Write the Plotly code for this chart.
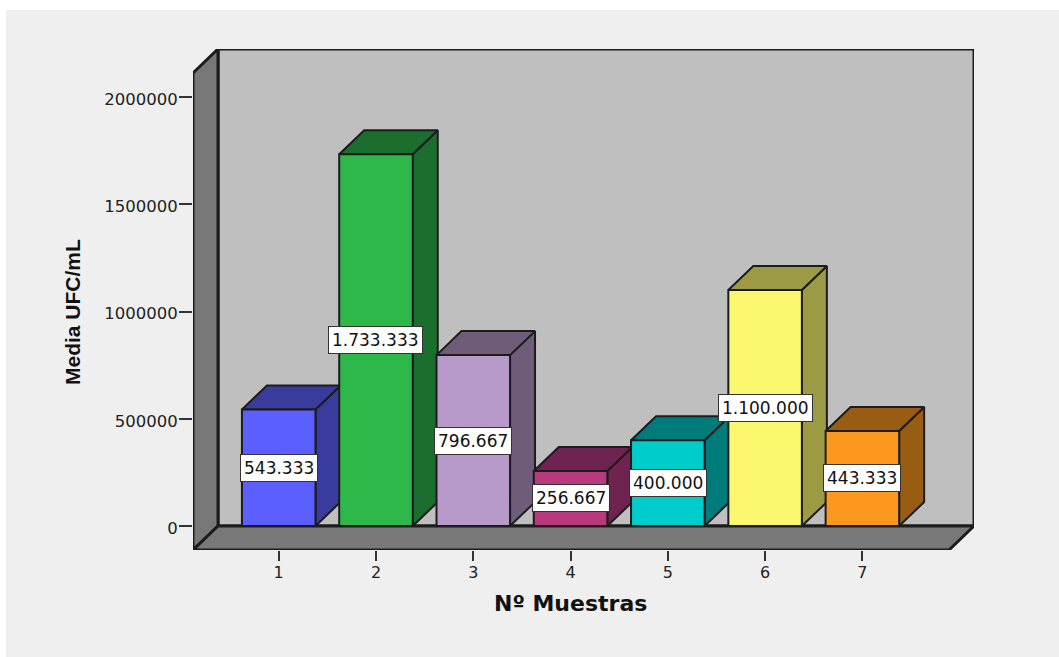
import plotly.graph_objects as go

# Mean CFU per sample, shown as extruded bars on a box-shaped stage
samples = [1, 2, 3, 4, 5, 6, 7]
mean_ufc = [543333, 1733333, 796667, 256667, 400000, 1100000, 443333]
front_colors = ["#5b5fff", "#2fb84a", "#b79ac9", "#b83a7c", "#00cccc", "#fbf870", "#fd981e"]
shade_colors = ["#393c9c", "#1b6e2e", "#6f5c79", "#6f2350", "#007b7b", "#9d9a45", "#985c12"]
y_ticks = [0, 500000, 1000000, 1500000, 2000000]

WIDTH, HEIGHT = 1059, 657
LEFT, TOP, RIGHT, BOTTOM = 193, 49, 974, 550

# Axis scale: one sample step and one 500000 step in screen units
STEP_X = 97.28
UNITS_PER_PX = 500000 / 107.25
X0_PX, Y0_PX = 278.7, 526

x_range = [1 - (X0_PX - LEFT) / STEP_X, 1 + (RIGHT - X0_PX) / STEP_X]
y_range = [-(BOTTOM - Y0_PX) * UNITS_PER_PX, (Y0_PX - TOP) * UNITS_PER_PX]

# Extrusion offset of the 3D effect, in axis units
DEPTH_X = 25 / STEP_X
DEPTH_Y = (BOTTOM - Y0_PX) * UNITS_PER_PX
BAR_WIDTH = 0.756

EDGE = "#1c1c1c"
AXIS_FONT = "DejaVu Sans"


def face(xs, ys, color, width=2, xaxis="x", yaxis="y"):
    return go.Scatter(
        x=xs + xs[:1], y=ys + ys[:1], mode="lines", fill="toself", fillcolor=color,
        line=dict(color=EDGE, width=width), hoverinfo="skip", showlegend=False,
        xaxis=xaxis, yaxis=yaxis,
    )


fig = go.Figure()

# Stage: back wall, left wall and floor
xl, xr = x_range
yb, yt = y_range
fig.add_trace(face([xl + DEPTH_X, xr, xr, xl + DEPTH_X], [0, 0, yt, yt], "#bfbfbf", 3))
fig.add_trace(face([xl, xl + DEPTH_X, xl + DEPTH_X, xl], [yb, 0, yt, yt - DEPTH_Y], "#787878", 3))
fig.add_trace(face([xl, xl + DEPTH_X, xr, xr - DEPTH_X], [yb, 0, 0, yb], "#787878", 3))

# Side and top faces of each bar stay on the base axes
for s, v, shade in zip(samples, mean_ufc, shade_colors):
    a, b = s - BAR_WIDTH / 2, s + BAR_WIDTH / 2
    fig.add_trace(face([b, b + DEPTH_X, b + DEPTH_X, b], [0, DEPTH_Y, v + DEPTH_Y, v], shade, 2))
    fig.add_trace(face([a, b, b + DEPTH_X, a + DEPTH_X], [v, v, v + DEPTH_Y, v + DEPTH_Y], shade, 2))

# Front faces sit on overlaying axes so each covers its left neighbour's side
fig.add_trace(go.Bar(
    x=samples, y=mean_ufc, width=BAR_WIDTH, xaxis="x2", yaxis="y2",
    marker=dict(color=front_colors, line=dict(color=EDGE, width=2)),
    hoverinfo="skip", showlegend=False,
))

annotations = [
    dict(
        x=s, y=v / 2, xref="x2", yref="y2", showarrow=False,
        xanchor="center", yanchor="middle",
        text=f"{v:,}".replace(",", "."),
        font=dict(family=AXIS_FONT, size=17, color="#111111"),
        bgcolor="white", bordercolor="#333333", borderwidth=1, borderpad=3,
    )
    for s, v in zip(samples, mean_ufc)
]
annotations.append(dict(
    x=(570 - LEFT) / (RIGHT - LEFT), y=(BOTTOM - 603) / (BOTTOM - TOP),
    xref="paper", yref="paper", showarrow=False, xanchor="center", yanchor="middle",
    text="<b>Nº Muestras</b>",
    font=dict(family=AXIS_FONT, size=22, color="#111111"),
))
annotations.append(dict(
    x=(72 - LEFT) / (RIGHT - LEFT), y=(BOTTOM - 312) / (BOTTOM - TOP),
    xref="paper", yref="paper", showarrow=False, xanchor="center", yanchor="middle",
    textangle=-90, text="<b>Media UFC/mL</b>",
    font=dict(family="Liberation Sans", size=21, color="#111111"),
))

fig.update_layout(
    width=WIDTH, height=HEIGHT,
    margin=dict(l=LEFT, t=TOP, r=WIDTH - RIGHT, b=HEIGHT - BOTTOM, pad=0),
    paper_bgcolor="white", plot_bgcolor="rgba(0,0,0,0)",
    showlegend=False, annotations=annotations,
    xaxis=dict(
        range=x_range, tickmode="array", tickvals=samples, ticktext=[str(s) for s in samples],
        ticks="outside", ticklen=10, tickwidth=2, tickcolor="#333333",
        showgrid=False, zeroline=False, showline=False, ticklabelstandoff=-2,
        tickfont=dict(family=AXIS_FONT, size=16, color="#222222"),
    ),
    yaxis=dict(
        range=y_range, tickmode="array", tickvals=y_ticks, ticktext=[str(t) for t in y_ticks],
        ticks="outside", ticklen=13, tickwidth=2, tickcolor="#333333",
        showgrid=False, zeroline=False, showline=False, ticklabelshift=2, ticklabelstandoff=-2,
        tickfont=dict(family=AXIS_FONT, size=16.5, color="#222222"),
    ),
    xaxis2=dict(range=x_range, overlaying="x", visible=False),
    yaxis2=dict(range=y_range, overlaying="y", visible=False),
    shapes=[dict(
        type="rect", xref="paper", yref="paper", layer="below",
        x0=(6 - LEFT) / (RIGHT - LEFT), x1=(WIDTH - LEFT) / (RIGHT - LEFT),
        y0=(BOTTOM - HEIGHT) / (BOTTOM - TOP), y1=(BOTTOM - 10) / (BOTTOM - TOP),
        fillcolor="#efefef", line=dict(width=0),
    )],
)

fig.write_html("out.html")
